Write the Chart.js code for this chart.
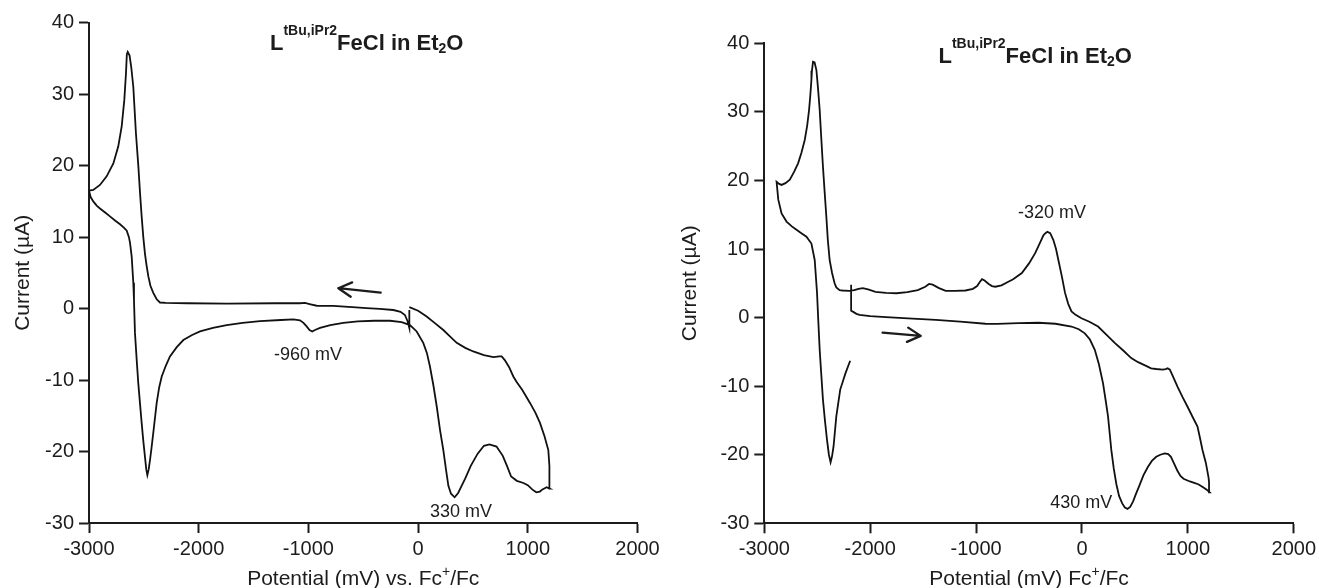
<!DOCTYPE html>
<html>
<head>
<meta charset="utf-8">
<title>LFeCl cyclic voltammograms</title>
<script src="https://cdn.jsdelivr.net/npm/chart.js@4.4.1/dist/chart.umd.min.js"></script>
<style>
  body { margin: 0; background: #fff; }
  #wrap { position: relative; width: 1319px; height: 588px; overflow: hidden; }
  canvas { position: absolute; top: 0; }
</style>
</head>
<body>
<div id="wrap">
  <canvas id="cvLeft" width="680" height="588" style="left:0"></canvas>
  <canvas id="cvRight" width="660" height="588" style="left:660px"></canvas>
</div>
<script>
// tick labels shared by both panels
const xTicks = [-3000, -2000, -1000, 0, 1000, 2000];
const yTicks = [-30, -20, -10, 0, 10, 20, 30, 40];

// left panel: scan starts near -80 mV, goes negative, back to +1200, back to -80
const leftPotential = [
  -80, -80, -95, -120, -160, -226, -350, -470, -600, -773, -924, -980, -1031, -1077, -1300,
  -1745, -2100, -2300, -2353, -2383, -2414, -2440, -2459, -2475, -2490, -2505, -2520, -2535,
  -2550, -2572, -2596, -2615, -2630, -2647, -2655, -2663, -2678, -2702, -2733, -2778, -2839,
  -2900, -2961, -3000,
  -2985, -2961, -2930, -2900, -2850, -2809, -2760, -2717, -2680, -2656, -2636, -2626, -2611,
  -2596, -2590, -2581, -2566, -2551, -2535, -2520, -2505, -2490, -2478, -2468, -2456, -2444,
  -2430, -2414, -2383, -2360, -2337, -2300, -2262, -2200, -2140, -2060, -1988, -1870, -1745,
  -1600, -1441, -1250, -1138, -1077, -1045, -1016, -990, -965, -940, -894, -800, -682, -550,
  -400, -256, -150, -74, -13, 47, 80, 108, 140, 170, 200, 230, 255, 276, 300, 333, 365, 400,
  429, 480, 543, 600, 650, 715, 772, 810, 848, 900, 960, 1000, 1040, 1077, 1110, 1134, 1172, 1199,
  1199, 1195, 1187, 1153, 1111, 1070, 1020, 950, 900, 868, 830, 790, 762, 740, 686, 600, 503,
  430, 352, 290, 230, 150, 78, 0, -80
];
const leftCurrent = [
  -0.2, -2.7, -1.8, -0.9, -0.45, -0.2, -0.05, 0.06, 0.2, 0.38, 0.4, 0.6, 0.8, 0.75, 0.75,
  0.7, 0.75, 0.8, 0.85, 1.3, 2.2, 3.2, 4.5, 6.0, 7.7, 10.0, 12.9, 16.2,
  19.9, 24.5, 31.0, 33.8, 35.4, 35.9, 35.6, 32.9, 29.2, 25.5, 22.7, 20.3, 18.5,
  17.3, 16.6, 16.5,
  15.6, 15.0, 14.4, 14.0, 13.4, 12.9, 12.3, 11.8, 11.3, 10.9, 10.0, 9.2, 7.3,
  3.6, 1.2, -3.4, -7.0, -10.4, -13.3, -16.0, -18.5, -20.7, -22.5, -23.3, -22.5, -21.2,
  -19.5, -17.4, -13.2, -11.0, -9.5, -8.0, -6.7, -5.4, -4.4, -3.7, -3.2, -2.7, -2.3,
  -2.0, -1.75, -1.6, -1.5, -1.65, -2.0, -2.5, -3.0, -3.2, -3.0, -2.7, -2.3, -2.0, -1.8,
  -1.7, -1.7, -1.9, -2.3, -3.2, -4.8, -6.2, -8.1, -10.8, -13.7, -17.0, -19.8, -22.6, -24.8, -25.9, -26.4, -25.8, -24.7,
  -23.8, -22.0, -20.3, -19.2, -19.0, -19.3, -20.6, -22.0, -23.5, -24.1, -24.4, -24.7, -25.3, -25.7, -25.6, -25.3, -25.0, -25.2,
  -24.0, -22.0, -19.8, -17.9, -16.0, -14.6, -13.2, -11.4, -10.3, -9.5, -8.2, -7.2, -6.7, -6.7, -6.8, -6.5, -6.0,
  -5.5, -4.8, -3.9, -3.0, -2.0, -1.1, -0.3, 0.2
];

// right panel: scan starts at -2180 mV, goes positive to +1200, back to -2880, then up to -2190
const rightPotential = [
  -2180, -2180, -2164, -2130, -2101, -2000, -1851, -1600, -1381, -1150, -912, -800, -600, -411,
  -250, -99, -30, 27, 75, 121, 160, 199, 225, 246, 262, 277, 300, 325, 350, 380, 405, 430, 455,
  483, 510, 542, 580, 622, 660, 701, 740, 781, 815, 840, 870, 900, 930, 959, 1019, 1060, 1098,
  1140, 1178, 1206,
  1200, 1195, 1170, 1138, 1115, 1091, 1045, 997, 950, 903, 860, 830, 809, 790, 762, 700, 653,
  600, 530, 465, 390, 309, 230, 152, 70, -5, -60, -99, -130, -160, -190, -223, -245, -270, -300,
  -327, -345, -364, -400, -442, -500, -568, -650, -700, -760, -818, -850, -881, -920, -944, -965,
  -990, -1030, -1100, -1200, -1287, -1350, -1410, -1444, -1480, -1550, -1650, -1750, -1851, -1950,
  -2020, -2070, -2110, -2150, -2200, -2260, -2289, -2320, -2336, -2360, -2383, -2400, -2414, -2430,
  -2446, -2462, -2477, -2493, -2508, -2525, -2540, -2550, -2555, -2565, -2577, -2595, -2618, -2650,
  -2681, -2720, -2759, -2800, -2837, -2860, -2884,
  -2868, -2837, -2790, -2740, -2696, -2650, -2602, -2555, -2524, -2502, -2490, -2477, -2461, -2446,
  -2426, -2408, -2390, -2374, -2360, -2346, -2320, -2283, -2233, -2189
];
const rightCurrent = [
  4.8, 1.0, 0.87, 0.55, 0.39, 0.2, 0.06, -0.15, -0.34, -0.6, -0.9, -0.92, -0.8, -0.75,
  -0.9, -1.3, -1.7, -2.3, -3.2, -4.7, -6.8, -9.6, -12.2, -14.4, -16.9, -19.3, -22.0, -24.3, -26.0, -27.1, -27.7, -27.9, -27.6,
  -26.8, -25.7, -24.5, -23.0, -21.8, -20.9, -20.3, -20.0, -19.8, -19.9, -20.3, -21.3, -22.3, -23.1, -23.5, -23.9, -24.1, -24.3,
  -24.7, -25.1, -25.5,
  -24.0, -23.3, -21.2, -19.3, -17.6, -15.9, -14.5, -13.0, -11.6, -10.1, -8.6, -7.6, -7.4, -7.5, -7.6, -7.5, -7.4,
  -7.0, -6.5, -5.9, -4.8, -3.7, -2.5, -1.3, -0.6, -0.1, 0.4, 0.9, 2.0, 3.6, 6.0, 8.4, 10.0, 11.3, 12.3,
  12.5, 12.3, 12.0, 10.8, 9.4, 7.9, 6.5, 5.6, 5.2, 4.7, 4.5, 4.6, 4.9, 5.4, 5.6, 5.2,
  4.6, 4.2, 3.95, 3.9, 3.9, 4.3, 4.8, 4.9, 4.5, 4.0, 3.7, 3.55, 3.6, 3.75,
  4.1, 4.3, 4.2, 4.0, 3.9, 3.95, 4.0, 4.4, 5.0, 6.5, 8.4, 11.3, 14.7, 18.3,
  22.0, 26.2, 30.3, 33.5, 36.1, 37.2, 37.3, 36.0, 34.7, 32.5, 30.3, 28.0, 25.9, 24.0,
  22.5, 21.2, 20.1, 19.6, 19.35, 19.5, 19.8,
  17.2, 15.2, 14.0, 13.3, 12.8, 12.3, 11.8, 10.8, 8.4, 3.6, -0.5, -4.7, -8.5, -12.0,
  -15.2, -17.8, -20.0, -21.1, -20.2, -18.8, -14.4, -10.5, -8.1, -6.3
];

// peak labels and scan direction arrows (data units)
const leftNoteText = ['-960 mV', '330 mV'];
const leftNoteX = [-1004, 391];
const leftNoteY = [-6.5, -28.4];
const rightNoteText = ['-320 mV', '430 mV'];
const rightNoteX = [-283, -7];
const rightNoteY = [15.3, -27.0];
const leftArrowX = [-341, -727];
const leftArrowY = [2.24, 2.85];
const rightArrowX = [-1883, -1523];
const rightArrowY = [-2.19, -2.67];

const FONT = '"Liberation Sans", Arial, sans-serif';
const INK = '#1c1c1c';

// text pieces: [text, size, bold, baseline shift]
const titleRuns = [['L', 22, true, 0], ['tBu,iPr2', 14, true, -15], ['FeCl in Et', 22, true, 0], ['2', 14, true, 3.5], ['O', 22, true, 0]];

function runsWidth(ctx, runs) {
    let w = 0;
    runs.forEach(([text, size, bold]) => {
        ctx.font = (bold ? 'bold ' : '') + size + 'px ' + FONT;
        w += ctx.measureText(text).width;
    });
    return w;
}

function drawRuns(ctx, runs, x, y) {
    runs.forEach(([text, size, bold, dy]) => {
        ctx.font = (bold ? 'bold ' : '') + size + 'px ' + FONT;
        ctx.fillText(text, x, y + dy);
        x += ctx.measureText(text).width;
    });
}

// title, axis title with superscript, peak labels and arrow
const overlay = {
    id: 'overlay',
    afterDraw(chart, args, o) {
        const { ctx, chartArea: area, scales: { x, y } } = chart;
        ctx.save();
        ctx.fillStyle = INK;
        ctx.strokeStyle = INK;
        ctx.textAlign = 'left';
        ctx.textBaseline = 'alphabetic';
        drawRuns(ctx, titleRuns, o.titleX, o.titleY);

        const w = runsWidth(ctx, o.xTitle);
        drawRuns(ctx, o.xTitle, (area.left + area.right) / 2 - w / 2, o.xTitleY);

        ctx.font = '18px ' + FONT;
        ctx.textAlign = 'center';
        ctx.textBaseline = 'middle';
        o.noteText.forEach((t, i) => {
            ctx.fillText(t, x.getPixelForValue(o.noteX[i]), y.getPixelForValue(o.noteY[i]));
        });

        const x0 = x.getPixelForValue(o.arrowX[0]), y0 = y.getPixelForValue(o.arrowY[0]);
        const x1 = x.getPixelForValue(o.arrowX[1]), y1 = y.getPixelForValue(o.arrowY[1]);
        const ang = Math.atan2(y0 - y1, x0 - x1);
        ctx.lineWidth = 2.3;
        ctx.lineCap = 'round';
        ctx.beginPath();
        ctx.moveTo(x0, y0);
        ctx.lineTo(x1, y1);
        [-0.5, 0.5].forEach(d => {
            ctx.moveTo(x1, y1);
            ctx.lineTo(x1 + 15 * Math.cos(ang + d), y1 + 15 * Math.sin(ang + d));
        });
        ctx.stroke();
        ctx.restore();
    }
};

function makeChart(id, potential, current, cfg) {
    const points = potential.map((v, i) => ({ x: v, y: current[i] }));
    return new Chart(document.getElementById(id), {
        type: 'scatter',
        data: {
            datasets: [{
                data: points,
                showLine: true,
                borderColor: '#111',
                borderWidth: 1.8,
                pointRadius: 0,
                tension: 0
            }]
        },
        options: {
            responsive: false,
            animation: false,
            layout: { padding: cfg.padding },
            plugins: {
                legend: { display: false },
                tooltip: { enabled: false },
                overlay: cfg.overlay
            },
            scales: {
                x: {
                    type: 'linear',
                    min: -3000,
                    max: 2000,
                    afterBuildTicks: s => { s.ticks = xTicks.map(v => ({ value: v })); },
                    afterFit: s => { s.height = cfg.xHeight; },
                    ticks: {
                        font: { family: FONT, size: 20 },
                        color: INK,
                        padding: 4,
                        maxRotation: 0,
                        callback: v => String(v)
                    },
                    grid: { drawOnChartArea: false, drawTicks: true, tickLength: 10, tickWidth: 2, color: INK },
                    border: { display: true, width: 2, color: INK }
                },
                y: {
                    type: 'linear',
                    min: -30,
                    max: 40,
                    afterBuildTicks: s => { s.ticks = yTicks.map(v => ({ value: v })); },
                    afterFit: s => { s.width = cfg.yWidth; },
                    ticks: {
                        font: { family: FONT, size: 20 },
                        color: INK,
                        padding: 5,
                        callback: v => String(v)
                    },
                    title: {
                        display: true,
                        text: 'Current (\u00B5A)',
                        font: { family: FONT, size: 21 },
                        color: INK,
                        padding: { top: cfg.yTitlePad, bottom: 0 }
                    },
                    grid: { drawOnChartArea: false, drawTicks: true, tickLength: 10, tickWidth: 2, color: INK },
                    border: { display: true, width: 2, color: INK }
                }
            }
        },
        plugins: [overlay]
    });
}

makeChart('cvLeft', leftPotential, leftCurrent, {
    padding: { left: 0, top: 22.7, right: 42.5, bottom: 0 },
    yWidth: 89,
    xHeight: 65,
    yTitlePad: 10.4,
    overlay: {
        titleX: 270, titleY: 49.5,
        xTitle: [['Potential (mV) vs. Fc', 21, false, 0], ['+', 14, false, -9], ['/Fc', 21, false, 0]],
        xTitleY: 585,
        noteText: leftNoteText, noteX: leftNoteX, noteY: leftNoteY,
        arrowX: leftArrowX, arrowY: leftArrowY
    }
});

makeChart('cvRight', rightPotential, rightCurrent, {
    padding: { left: 0, top: 43.3, right: 23, bottom: 0 },
    yWidth: 104.3,
    xHeight: 64.7,
    yTitlePad: 18,
    overlay: {
        titleX: 278.5, titleY: 62.5,
        xTitle: [['Potential (mV) Fc', 21, false, 0], ['+', 14, false, -9], ['/Fc', 21, false, 0]],
        xTitleY: 585,
        noteText: rightNoteText, noteX: rightNoteX, noteY: rightNoteY,
        arrowX: rightArrowX, arrowY: rightArrowY
    }
});
</script>
</body>
</html>
